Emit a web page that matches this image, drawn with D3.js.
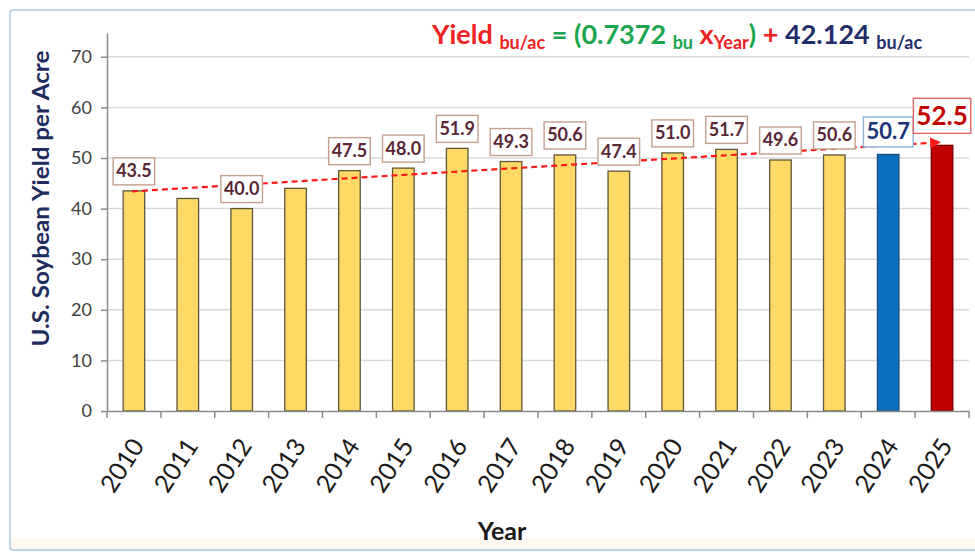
<!DOCTYPE html>
<html>
<head>
<meta charset="utf-8">
<script src="https://cdn.jsdelivr.net/npm/d3@7"></script>
<style>
  html, body { margin: 0; padding: 0; background: #ffffff; }
  svg { display: block; font-family: Lato, "Open Sans", sans-serif; }
</style>
</head>
<body>
<svg id="chart" width="975" height="555"></svg>
<script>
// ---- data ----
const years = ["2010","2011","2012","2013","2014","2015","2016","2017","2018","2019","2020","2021","2022","2023","2024","2025"];
const yields = [43.5, 42.0, 40.0, 44.0, 47.5, 48.0, 51.9, 49.3, 50.6, 47.4, 51.0, 51.7, 49.6, 50.6, 50.7, 52.5];
const labelText = ["43.5", "", "40.0", "", "47.5", "48.0", "51.9", "49.3", "50.6", "47.4", "51.0", "51.7", "49.6", "50.6", "50.7", "52.5"];
const yTicks = [0, 10, 20, 30, 40, 50, 60, 70];
const trendYears = ["2010", "2025"];
const trendValues = [43.4, 53.1];
const yTitle = "U.S. Soybean Yield per Acre";
const xTitle = "Year";

// ---- layout ----
const svg = d3.select("#chart");
const W = 975, H = 555;
const mLeft = 107, mRight = 969, mBottom = 411, mTop = 33;

// frame
svg.append("rect").attr("x", 0).attr("y", 0).attr("width", W).attr("height", H).attr("fill", "#ffffff");
svg.append("rect").attr("x", 10).attr("y", 538).attr("width", W).attr("height", 12).attr("fill", "#fdf9f0");
svg.append("rect").attr("x", 10).attr("y", 10).attr("width", W + 10).attr("height", 540)
  .attr("rx", 3).attr("fill", "none").attr("stroke", "#aac8e4").attr("stroke-width", 1.5);

const x = d3.scaleBand().domain(years).range([mLeft, mRight]).padding(0);
const y = d3.scaleLinear().domain([0, 74.7]).range([mBottom, mTop]);
const barW = x.bandwidth() * 0.4;

// gridlines
svg.append("g").selectAll("line").data(yTicks.filter(d => d > 0)).join("line")
  .attr("x1", mLeft).attr("x2", mRight)
  .attr("y1", d => y(d)).attr("y2", d => y(d))
  .attr("stroke", "#d9d9d9").attr("stroke-width", 1.5);

// y axis
const yAxis = svg.append("g").attr("transform", `translate(${mLeft},0)`)
  .call(d3.axisLeft(y).tickValues(yTicks).tickSize(6).tickSizeOuter(0).tickPadding(9));
yAxis.select(".domain").attr("stroke", "#8c8c8c").attr("stroke-width", 1.5);
yAxis.selectAll(".tick line").attr("stroke", "#8c8c8c").attr("stroke-width", 1.5);
yAxis.selectAll(".tick text").attr("font-size", 18).attr("fill", "#404040")
  .attr("font-family", "Lato, sans-serif");

// bars
const barFill = d => d === "2024" ? "#0b6fc0" : d === "2025" ? "#c00000" : "#ffd966";
const barStroke = d => d === "2024" ? "#1d4f7c" : d === "2025" ? "#7a0000" : "#5e5636";
svg.append("g").selectAll("rect").data(years).join("rect")
  .attr("x", d => x(d) + (x.bandwidth() - barW) / 2)
  .attr("width", barW)
  .attr("y", (d, i) => y(yields[i]))
  .attr("height", (d, i) => y(0) - y(yields[i]))
  .attr("fill", barFill).attr("stroke", barStroke).attr("stroke-width", 1.3);

// x axis
const xAxis = svg.append("g").attr("transform", `translate(0,${mBottom})`)
  .call(d3.axisBottom(x).tickSize(0).tickSizeOuter(0).tickFormat(""));
xAxis.select(".domain").attr("stroke", "#8c8c8c").attr("stroke-width", 1.5);
// tick marks at band boundaries
const bounds = years.map(d => x(d)).concat([mRight]);
svg.append("g").selectAll("line").data(bounds).join("line")
  .attr("x1", d => d).attr("x2", d => d)
  .attr("y1", mBottom).attr("y2", mBottom + 7)
  .attr("stroke", "#8c8c8c").attr("stroke-width", 1.5);
// rotated labels
svg.append("g").selectAll("text").data(years).join("text")
  .attr("transform", d => `translate(${x(d) + x.bandwidth() / 2 + 4},${mBottom + 30}) rotate(-57)`)
  .attr("text-anchor", "end").attr("dy", "0.35em")
  .attr("font-size", 25).attr("fill", "#1a1a1a")
  .text(d => d);

// trend line with arrow
svg.append("defs").append("marker")
  .attr("id", "arrow").attr("viewBox", "0 0 10 10").attr("refX", 9).attr("refY", 5)
  .attr("markerWidth", 5).attr("markerHeight", 5).attr("orient", "auto")
  .attr("markerUnits", "strokeWidth")
  .append("path").attr("d", "M0,0 L10,5 L0,10 Z").attr("fill", "#ff1a1a");
svg.append("line")
  .attr("x1", x(trendYears[0]) + x.bandwidth() / 2 - 2)
  .attr("y1", y(trendValues[0]))
  .attr("x2", x(trendYears[1]) + x.bandwidth() / 2 - 2)
  .attr("y2", y(trendValues[1]))
  .attr("stroke", "#ff1a1a").attr("stroke-width", 2.2).attr("stroke-dasharray", "6,4")
  .attr("marker-end", "url(#arrow)");

// value labels
const lg = svg.append("g");
years.forEach((d, i) => {
  if (!labelText[i]) return;
  const special = d === "2024" ? "blue" : d === "2025" ? "red" : "norm";
  const fs = special === "red" ? 26 : special === "blue" ? 22 : 18;
  const off = special === "red" ? 30 : special === "blue" ? 23 : 20;
  const cx = x(d) + x.bandwidth() / 2;
  const cy = y(yields[i]) - off;
  const g = lg.append("g");
  const t = g.append("text").attr("x", cx).attr("y", cy).attr("dy", "0.36em")
    .attr("text-anchor", "middle").attr("font-weight", "bold").attr("font-size", fs)
    .attr("fill", special === "red" ? "#c00000" : special === "blue" ? "#1b3479" : "#5a2636")
    .text(labelText[i]);
  const bb = t.node().getBBox();
  const px = 3, py = special === "norm" ? 3 : 2;
  g.insert("rect", "text")
    .attr("x", bb.x - px).attr("y", cy - (bb.height / 2) - py + 1)
    .attr("width", bb.width + 2 * px).attr("height", bb.height + 2 * py - 1)
    .attr("fill", "#ffffff")
    .attr("stroke", special === "red" ? "#e06666" : special === "blue" ? "#8db3d9" : "#c4a08c")
    .attr("stroke-width", 1.4);
});

// equation title
const eq = svg.append("text").attr("x", 432).attr("y", 44).attr("font-weight", "bold").attr("font-size", 27);
const red = "#ee2222", green = "#1aa64f", navy = "#1f2d6b";
const sub = 18;
eq.append("tspan").attr("fill", red).text("Yield ");
eq.append("tspan").attr("fill", red).attr("font-size", sub).attr("dy", 5).text("bu/ac");
eq.append("tspan").attr("fill", green).attr("dy", -5).text(" = (0.7372 ");
eq.append("tspan").attr("fill", green).attr("font-size", sub).attr("dy", 5).text("bu");
eq.append("tspan").attr("fill", red).attr("dy", -5).text(" x");
eq.append("tspan").attr("fill", red).attr("font-size", sub).attr("dy", 5).text("Year");
eq.append("tspan").attr("fill", green).attr("dy", -5).text(")");
eq.append("tspan").attr("fill", red).text(" + ");
eq.append("tspan").attr("fill", navy).text("42.124 ");
eq.append("tspan").attr("fill", navy).attr("font-size", sub).attr("dy", 5).text("bu/ac");

// axis titles
svg.append("text")
  .attr("transform", `translate(49,${(50 + 347) / 2}) rotate(-90)`)
  .attr("text-anchor", "middle").attr("font-weight", "bold").attr("font-size", 22)
  .attr("textLength", 296).attr("lengthAdjust", "spacingAndGlyphs")
  .attr("fill", "#1f2d5e").text(yTitle);
svg.append("text").attr("x", 502).attr("y", 540).attr("text-anchor", "middle")
  .attr("font-weight", "bold").attr("font-size", 25).attr("fill", "#1a1a1a").text(xTitle);
</script>
</body>
</html>
